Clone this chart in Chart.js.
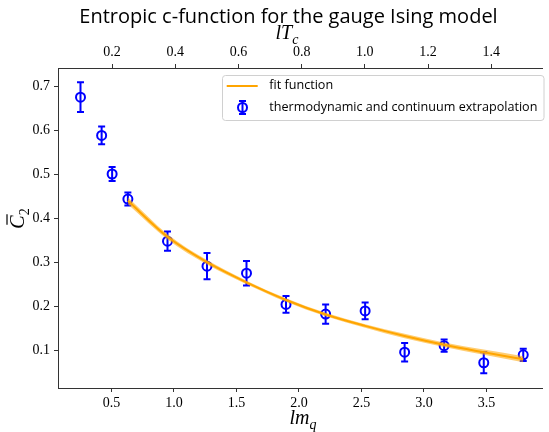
<!DOCTYPE html>
<html>
<head>
<meta charset="utf-8">
<script src="https://cdn.jsdelivr.net/npm/chart.js@4.4.1/dist/chart.umd.min.js"></script>
<style>
  html, body { margin: 0; padding: 0; background: #fff; }
</style>
</head>
<body>
<canvas id="chart" width="549" height="432"></canvas>
<script>
// data
const lmq = [0.253, 0.422, 0.506, 0.632, 0.949, 1.265, 1.581, 1.897, 2.214, 2.530, 2.846, 3.162, 3.479, 3.795];
const c2 = [0.676, 0.589, 0.501, 0.444, 0.348, 0.291, 0.275, 0.204, 0.182, 0.189, 0.095, 0.110, 0.071, 0.089];
const c2Err = [0.034, 0.020, 0.016, 0.015, 0.022, 0.030, 0.028, 0.019, 0.022, 0.019, 0.021, 0.014, 0.024, 0.014];

const fitX = [0.632, 0.949, 1.265, 1.581, 1.897, 2.214, 2.530, 2.846, 3.162, 3.479, 3.795];
const fitY = [0.440, 0.358, 0.300, 0.254, 0.214, 0.181, 0.155, 0.132, 0.112, 0.095, 0.079];
const fitBand = [0.008, 0.006, 0.005, 0.004, 0.004, 0.004, 0.004, 0.005, 0.005, 0.006, 0.007];

const xTicks = [0.5, 1.0, 1.5, 2.0, 2.5, 3.0, 3.5];
const topTicks = [0.2, 0.4, 0.6, 0.8, 1.0, 1.2, 1.4];
const yTicks = [0.1, 0.2, 0.3, 0.4, 0.5, 0.6, 0.7];

const xMin = 0.073, xMax = 3.949;
const tcRatio = 0.3956; // lT_c / lm_q
const yMin = 0.0135, yMax = 0.7425;

const BLUE = "#0000ff";
const ORANGE = "#ffa500";
const TICK_FONT = { family: "'Liberation Serif', serif", size: 14 };

function pts(xs, ys) {
  return xs.map((x, i) => ({ x: x, y: ys[i] }));
}

// small helper for "math" labels: parts = [[text, italic, sub]]
function drawMath(ctx, parts, cx, cy, size) {
  let widths = parts.map((p) => {
    ctx.font = (p[1] ? "italic " : "") + (p[2] ? size * 0.7 : size) + "px 'Liberation Serif', serif";
    return ctx.measureText(p[0]).width;
  });
  const total = widths.reduce((a, b) => a + b, 0);
  let x = cx - total / 2;
  parts.forEach((p, i) => {
    ctx.font = (p[1] ? "italic " : "") + (p[2] ? size * 0.7 : size) + "px 'Liberation Serif', serif";
    ctx.fillText(p[0], x, cy + (p[2] ? size * 0.25 : 0));
    x += widths[i];
  });
}

const errorBars = {
  id: "errorBars",
  beforeDatasetDraw(chart, args) {
    if (args.index !== 3) return;
    const ctx = chart.ctx;
    const xs = chart.scales.x;
    const ys = chart.scales.y;
    ctx.save();
    ctx.strokeStyle = BLUE;
    ctx.lineWidth = 2;
    lmq.forEach((v, i) => {
      const px = xs.getPixelForValue(v);
      const top = ys.getPixelForValue(c2[i] + c2Err[i]);
      const bot = ys.getPixelForValue(c2[i] - c2Err[i]);
      ctx.beginPath();
      ctx.moveTo(px, top);
      ctx.lineTo(px, bot);
      ctx.moveTo(px - 3.5, top);
      ctx.lineTo(px + 3.5, top);
      ctx.moveTo(px - 3.5, bot);
      ctx.lineTo(px + 3.5, bot);
      ctx.stroke();
    });
    ctx.restore();
  },
};

const decorations = {
  id: "decorations",
  afterDraw(chart) {
    const ctx = chart.ctx;
    const a = chart.chartArea;
    ctx.save();
    ctx.fillStyle = "#000";
    ctx.textBaseline = "alphabetic";

    // title
    ctx.textAlign = "center";
    ctx.font = "20px 'Open Sans', sans-serif";
    ctx.fillText("Entropic c-function for the gauge Ising model", 288.5, 23);

    ctx.textAlign = "left";
    drawMath(ctx, [["l", true], ["T", true], ["c", true, true]], 287, 39, 20);
    drawMath(ctx, [["l", true], ["m", true], ["q", true, true]], 303, 424, 20);

    // y label, rotated
    ctx.save();
    ctx.translate(24, 218);
    ctx.rotate(-Math.PI / 2);
    ctx.font = "italic 20px 'Liberation Serif', serif";
    const cw = ctx.measureText("C").width;
    const x0 = -(cw + 8) / 2;
    ctx.fillText("C", x0, 0);
    ctx.font = "14px 'Liberation Serif', serif";
    ctx.fillText("2", x0 + cw, 5);
    ctx.strokeStyle = "#000";
    ctx.lineWidth = 1.2;
    ctx.beginPath();
    ctx.moveTo(x0 + 4, -17);
    ctx.lineTo(x0 + cw + 1, -17);
    ctx.stroke();
    ctx.restore();

    // left spine
    ctx.strokeStyle = "#333";
    ctx.lineWidth = 1;
    ctx.beginPath();
    ctx.moveTo(a.left + 0.5, a.top);
    ctx.lineTo(a.left + 0.5, a.bottom);
    ctx.stroke();

    // legend
    const lx = 222.5, ly = 75.5, lw = 321.5, lh = 45;
    ctx.beginPath();
    ctx.roundRect(lx, ly, lw, lh, 3);
    ctx.fillStyle = "rgba(255,255,255,0.8)";
    ctx.fill();
    ctx.strokeStyle = "#d0d0d0";
    ctx.stroke();

    ctx.strokeStyle = ORANGE;
    ctx.lineWidth = 2;
    ctx.beginPath();
    ctx.moveTo(226.7, 86);
    ctx.lineTo(257.7, 86);
    ctx.stroke();

    ctx.strokeStyle = BLUE;
    ctx.beginPath();
    ctx.moveTo(242.5, 101);
    ctx.lineTo(242.5, 114);
    ctx.moveTo(239, 101);
    ctx.lineTo(246, 101);
    ctx.moveTo(239, 114);
    ctx.lineTo(246, 114);
    ctx.stroke();
    ctx.beginPath();
    ctx.arc(242.5, 107.5, 4.5, 0, Math.PI * 2);
    ctx.stroke();

    ctx.fillStyle = "#000";
    ctx.font = "12.6px 'Open Sans', sans-serif";
    ctx.textBaseline = "middle";
    ctx.fillText("fit function", 269.3, 85.5);
    ctx.fillText("thermodynamic and continuum extrapolation", 269.3, 107.5);
    ctx.restore();
  },
};

const bandHigh = fitY.map((v, i) => v + fitBand[i]);
const bandLow = fitY.map((v, i) => v - fitBand[i]);

new Chart(document.getElementById("chart"), {
  type: "scatter",
  data: {
    datasets: [
      {
        type: "line",
        data: pts(fitX, bandHigh),
        borderWidth: 0,
        pointRadius: 0,
        cubicInterpolationMode: "monotone",
        backgroundColor: "rgba(255,165,0,0.55)",
        fill: "+1",
      },
      {
        type: "line",
        data: pts(fitX, bandLow),
        borderWidth: 0,
        pointRadius: 0,
        cubicInterpolationMode: "monotone",
        fill: false,
      },
      {
        type: "line",
        label: "fit function",
        data: pts(fitX, fitY),
        borderColor: ORANGE,
        borderWidth: 2,
        pointRadius: 0,
        cubicInterpolationMode: "monotone",
        fill: false,
      },
      {
        label: "thermodynamic and continuum extrapolation",
        data: pts(lmq, c2),
        showLine: false,
        pointRadius: 4.5,
        pointBorderWidth: 2,
        pointBorderColor: BLUE,
        pointBackgroundColor: "rgba(0,0,0,0)",
      },
    ],
  },
  options: {
    responsive: false,
    animation: false,
    devicePixelRatio: 1,
    layout: { padding: 0 },
    plugins: {
      legend: { display: false },
      tooltip: { enabled: false },
      title: { display: false },
    },
    scales: {
      x: {
        type: "linear",
        position: "bottom",
        min: xMin,
        max: xMax,
        afterBuildTicks: (s) => { s.ticks = xTicks.map((v) => ({ value: v })); },
        afterFit: (s) => { s.height = 44; },
        ticks: {
          font: TICK_FONT,
          color: "#000",
          padding: 3,
          maxRotation: 0,
          callback: (v) => v.toFixed(1),
        },
        grid: { drawOnChartArea: false, tickLength: 4, tickColor: "#333" },
        border: { color: "#333", width: 1 },
      },
      x2: {
        type: "linear",
        position: "top",
        min: xMin * tcRatio,
        max: xMax * tcRatio,
        afterBuildTicks: (s) => { s.ticks = topTicks.map((v) => ({ value: v })); },
        afterFit: (s) => { s.height = 68; },
        ticks: {
          font: TICK_FONT,
          color: "#000",
          padding: 3,
          maxRotation: 0,
          callback: (v) => v.toFixed(1),
        },
        grid: { drawOnChartArea: false, tickLength: 4, tickColor: "#333" },
        border: { color: "#333", width: 1 },
      },
      y: {
        type: "linear",
        position: "left",
        min: yMin,
        max: yMax,
        afterBuildTicks: (s) => { s.ticks = yTicks.map((v) => ({ value: v })); },
        afterFit: (s) => { s.width = 58; },
        ticks: {
          font: TICK_FONT,
          color: "#000",
          padding: 4,
          callback: (v) => v.toFixed(1),
        },
        grid: { drawOnChartArea: false, tickLength: 4, tickColor: "#333" },
        border: { color: "#333", width: 1 },
      },
    },
  },
  plugins: [errorBars, decorations],
});
</script>
</body>
</html>
